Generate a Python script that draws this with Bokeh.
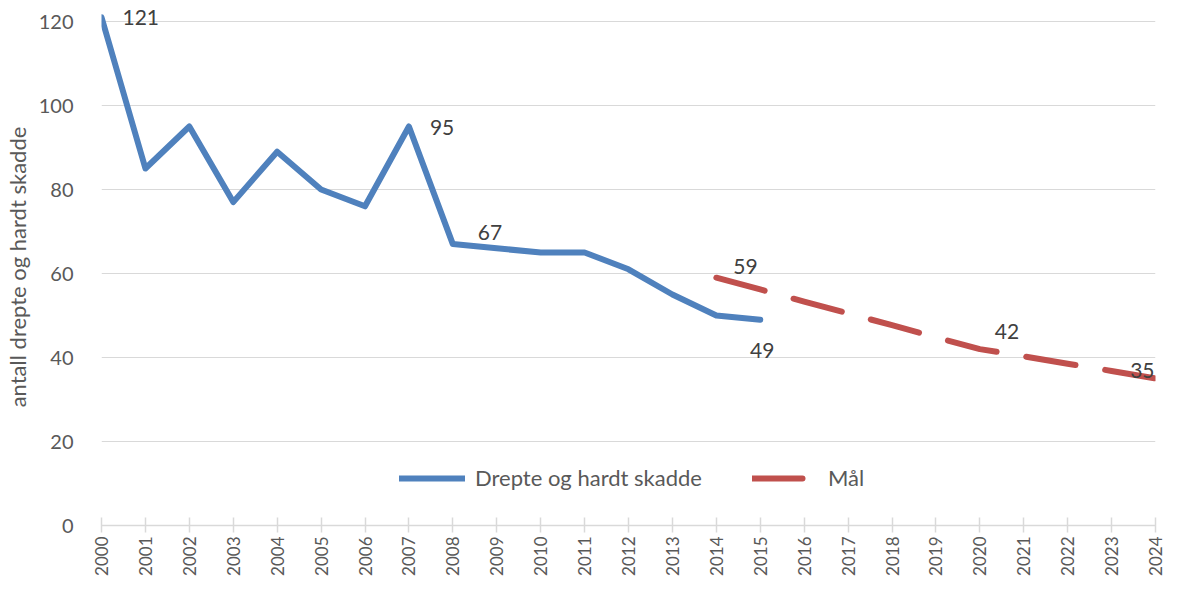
import math
from bokeh.plotting import figure
from bokeh.models import Range1d, FixedTicker, Legend, LegendItem, Label
from bokeh.embed import file_html
from bokeh.resources import INLINE

# ---------------- data ----------------
years = list(range(2000, 2016))
drepte = [121, 85, 95, 77, 89, 80, 76, 95, 67, 66, 65, 65, 61, 55, 50, 49]
maal_years = list(range(2014, 2025))
maal = [59, 56.2, 53.3, 50.5, 47.7, 44.8, 42, 40.3, 38.5, 36.8, 35]
x_ticks = list(range(2000, 2025))
y_ticks = [0, 20, 40, 60, 80, 100, 120]
series_names = ["Drepte og hardt skadde", "Mål"]
y_title = "antall drepte og hardt skadde"
drepte_label_years = [2000, 2007, 2008, 2015]
maal_label_years = [2014, 2020, 2024]

# ---------------- styling ----------------
FONT = "Lato"
TXT = "#595959"
LBL = "#404040"
GRID = "#d9d9d9"
BLUE = "#4F81BD"
RED = "#C0504D"

p = figure(width=1166, height=578, output_backend="svg", toolbar_location=None,
           x_range=Range1d(2000, 2024), y_range=Range1d(0, 123.1),
           min_border_left=100, min_border_right=11, min_border_top=8, min_border_bottom=48)
p.outline_line_color = None
p.background_fill_color = "white"
p.border_fill_color = "white"

p.xgrid.grid_line_color = None
p.ygrid.grid_line_color = GRID
p.ygrid.grid_line_width = 1

# y axis
p.yaxis.ticker = FixedTicker(ticks=y_ticks)
p.yaxis.axis_line_color = None
p.yaxis.major_tick_line_color = None
p.yaxis.minor_tick_line_color = None
p.yaxis.major_label_standoff = 22
p.yaxis.major_label_text_font = FONT
p.yaxis.major_label_text_font_size = "20px"
p.yaxis.major_label_text_color = TXT
p.yaxis.axis_label = y_title
p.yaxis.axis_label_text_font = FONT
p.yaxis.axis_label_text_font_size = "22px"
p.yaxis.axis_label_text_font_style = "normal"
p.yaxis.axis_label_text_color = TXT
p.yaxis.axis_label_standoff = 5

# x axis
p.xaxis.ticker = FixedTicker(ticks=x_ticks)
p.xaxis.major_label_orientation = math.pi / 2
p.xaxis.axis_line_color = GRID
p.xaxis.axis_line_width = 1.5
p.xaxis.major_tick_line_color = GRID
p.xaxis.major_tick_line_width = 1.5
p.xaxis.major_tick_in = 8
p.xaxis.major_tick_out = 7
p.xaxis.minor_tick_line_color = None
p.xaxis.major_label_standoff = 4
p.xaxis.major_label_text_font = FONT
p.xaxis.major_label_text_font_size = "17px"
p.xaxis.major_label_text_color = TXT

# lines
r1 = p.line(years, drepte, line_color=BLUE, line_width=6,
            line_join="round", line_cap="round")
r2 = p.line(maal_years, maal, line_color=RED, line_width=6, line_dash="50 30",
            line_join="round", line_cap="round")

# data labels (offsets in screen px: dx right, dy down)
offsets = {
    ("d", 2000): (21, 0, "left"),
    ("d", 2007): (21, 1, "left"),
    ("d", 2008): (25, -12, "left"),
    ("d", 2015): (2, 31, "center"),
    ("m", 2014): (17, -11, "left"),
    ("m", 2020): (15, -18, "left"),
    ("m", 2024): (-1, -8, "right"),
}
for key, xs, ys, lab_years in (("d", years, drepte, drepte_label_years),
                               ("m", maal_years, maal, maal_label_years)):
    for yr in lab_years:
        v = ys[xs.index(yr)]
        dx, dy, align = offsets[(key, yr)]
        p.add_layout(Label(x=yr, y=v, text=str(int(round(v))), x_offset=dx, y_offset=-dy,
                           text_align=align, text_baseline="middle",
                           text_font=FONT, text_font_size="21px", text_color=LBL))

legend = Legend(items=[LegendItem(label=series_names[0], renderers=[r1]),
                       LegendItem(label=series_names[1], renderers=[r2])],
                orientation="horizontal", location=(298, 34),
                border_line_color=None, background_fill_alpha=0,
                padding=0, margin=0, spacing=50, glyph_width=66, glyph_height=22,
                label_standoff=10, label_height=22,
                label_text_font=FONT, label_text_font_size="22px", label_text_color=TXT)
p.add_layout(legend, "center")

open("out.html", "w").write(file_html(p, INLINE))
